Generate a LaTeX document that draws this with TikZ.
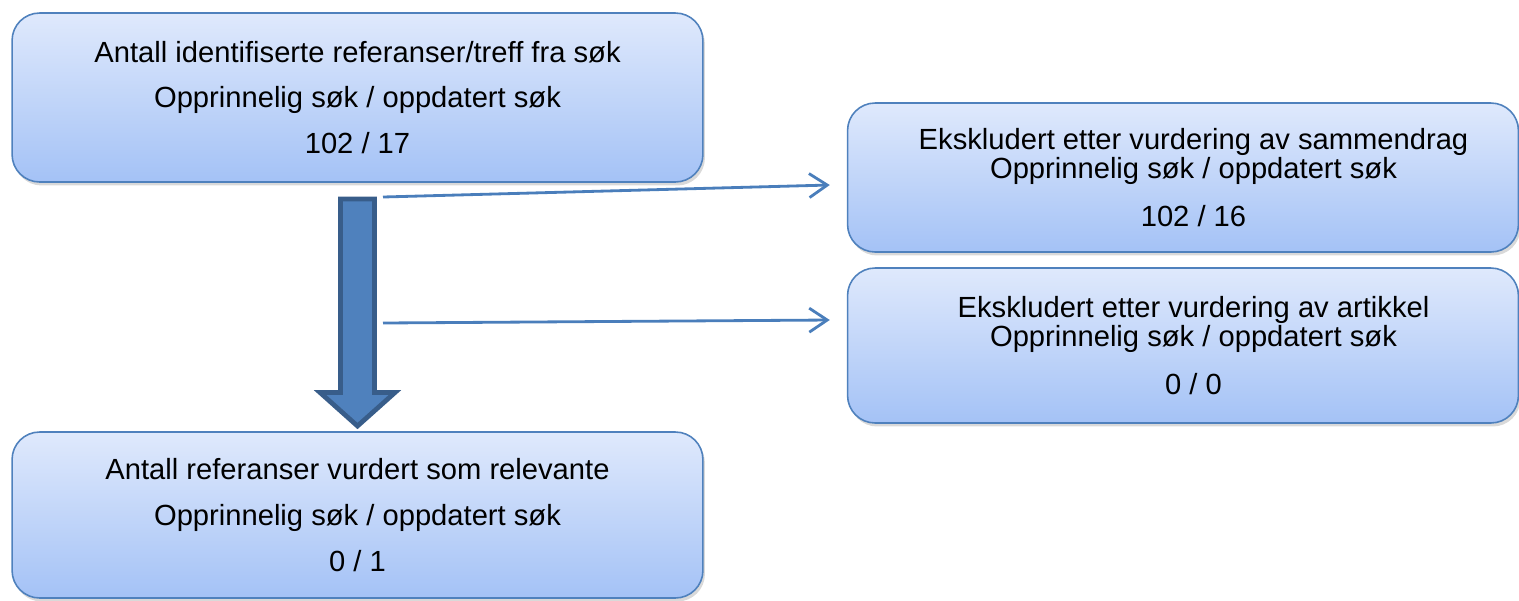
\documentclass[tikz,border=0pt]{standalone}
\usepackage{fontspec}
\setmainfont{Liberation Sans}
\usetikzlibrary{arrows.meta,shadows}
\definecolor{boxtop}{HTML}{DFE9FC}
\definecolor{boxbot}{HTML}{A4C2F6}
\definecolor{boxline}{HTML}{4F81BD}
\definecolor{flowfill}{HTML}{4F81BD}
\definecolor{flowline}{HTML}{385D8A}
\definecolor{linkline}{HTML}{4A7EBB}
\tikzset{
  boxtext/.style={align=center, inner sep=0pt, font=\fontsize{16.6}{16.6}\selectfont},
  stagebox/.style={draw=boxline, line width=0.9pt, rounded corners=0.55cm,
    top color=boxtop, bottom color=boxbot,
    drop shadow={shadow xshift=0.04cm, shadow yshift=-0.07cm, opacity=0.3},
    boxtext},
  link/.style={draw=linkline, line width=1.6pt, -{Straight Barb[length=3.6mm,width=4.8mm]}}
}

\begin{document}
\begin{tikzpicture}[x=0.02cm,y=-0.02cm]
      \useasboundingbox (0,0) rectangle (1519,600);
      % boxes
      \node[stagebox, minimum width=13.82cm, minimum height=3.38cm] (found) at (357.5,97.5)
        {Antall identifiserte referanser/treff fra søk\\[9.4pt] Opprinnelig søk / oppdatert søk\\[9.4pt] 102 / 17};
      \node[stagebox, minimum width=13.42cm, minimum height=2.98cm] (abstract) at (1183,177.5) {};
      \node[boxtext] (abstracttext) at ([xshift=0.21cm]abstract.center)
        {Ekskludert etter vurdering av sammendrag\\ Opprinnelig søk / oppdatert søk\\[10.4pt] 102 / 16};
      \node[stagebox, minimum width=13.42cm, minimum height=3.1cm] (article) at (1183,345.5) {};
      \node[boxtext] (articletext) at ([xshift=0.21cm]article.center)
        {Ekskludert etter vurdering av artikkel\\ Opprinnelig søk / oppdatert søk\\[10.4pt] 0 / 0};
      \node[stagebox, minimum width=13.82cm, minimum height=3.32cm] (relevant) at (357.5,515)
        {Antall referanser vurdert som relevante\\[9.4pt] Opprinnelig søk / oppdatert søk\\[9.4pt] 0 / 1};
      % big arrow down
      \filldraw[fill=flowfill, draw=flowline, line width=2.7pt]
        (340.5,199) -- (374.5,199) -- (374.5,392.5) -- (395,392.5) -- (357.5,426)
        -- (320,392.5) -- (340.5,392.5) -- cycle;
      % side arrows
      \coordinate (out1) at (383,197);
      \coordinate (out2) at (383,323);
      \draw[link] (out1) -- ([xshift=-0.34cm]abstract.west |- 0,185);
      \draw[link] (out2) -- ([xshift=-0.34cm]article.west |- 0,320);
\end{tikzpicture}
\end{document}
